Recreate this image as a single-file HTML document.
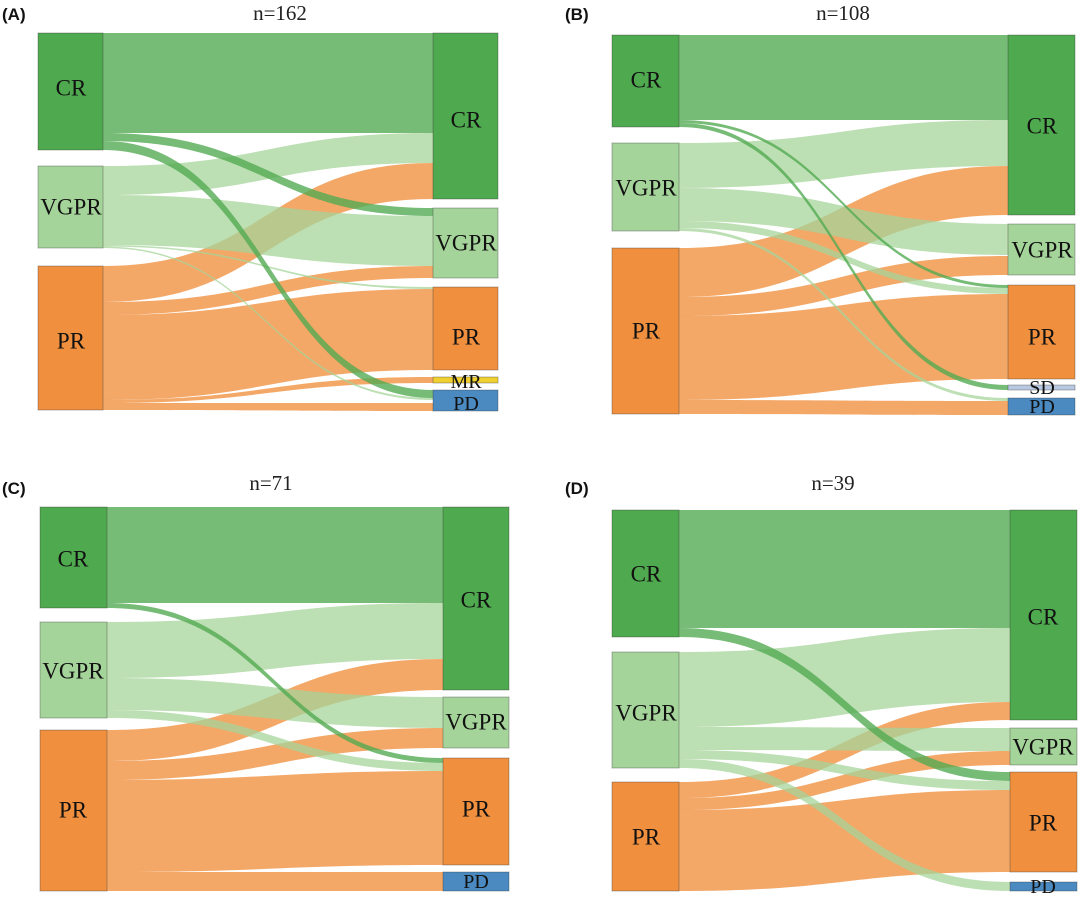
<!DOCTYPE html>
<html><head><meta charset="utf-8"><style>
body{margin:0;background:#fff}
svg{display:block}
.lab{font-family:"Liberation Serif",serif;font-size:23px;fill:#111;text-anchor:middle;dominant-baseline:central}
.sm{font-size:20px}
.ttl{font-family:"Liberation Serif",serif;font-size:21px;fill:#222;text-anchor:middle}
.pl{font-family:"Liberation Sans",sans-serif;font-size:17px;font-weight:bold;fill:#111}
</style></head><body>
<svg id="s" width="1080" height="898" viewBox="0 0 1080 898">
<g id="flows"></g>
<g id="nodes" stroke-opacity="0.35" stroke="#333" stroke-width="1">
<rect x="38" y="33" width="65" height="117" fill="#4fa94f"/>
<rect x="38" y="166" width="65" height="82" fill="#a5d49a"/>
<rect x="38" y="266" width="65" height="144" fill="#f08f3e"/>
<rect x="433" y="33" width="65" height="166" fill="#4fa94f"/>
<rect x="433" y="208" width="65" height="70" fill="#a5d49a"/>
<rect x="433" y="287" width="65" height="83" fill="#f08f3e"/>
<rect x="433" y="377" width="65" height="6" fill="#f0d030"/>
<rect x="433" y="390" width="65" height="21" fill="#4a8ac0"/>
<rect x="612" y="35" width="67" height="92" fill="#4fa94f"/>
<rect x="612" y="143" width="67" height="88" fill="#a5d49a"/>
<rect x="612" y="248" width="67" height="166" fill="#f08f3e"/>
<rect x="1008" y="35" width="67" height="180" fill="#4fa94f"/>
<rect x="1008" y="224" width="67" height="51" fill="#a5d49a"/>
<rect x="1008" y="285" width="67" height="94" fill="#f08f3e"/>
<rect x="1008" y="385" width="67" height="5" fill="#b8c8e0"/>
<rect x="1008" y="398" width="67" height="17" fill="#4a8ac0"/>
<rect x="40" y="507" width="67" height="101" fill="#4fa94f"/>
<rect x="40" y="622" width="67" height="96" fill="#a5d49a"/>
<rect x="40" y="730" width="67" height="161" fill="#f08f3e"/>
<rect x="443" y="507" width="66" height="183" fill="#4fa94f"/>
<rect x="443" y="697" width="66" height="51" fill="#a5d49a"/>
<rect x="443" y="758" width="66" height="107" fill="#f08f3e"/>
<rect x="443" y="872" width="66" height="19" fill="#4a8ac0"/>
<rect x="612" y="510" width="67" height="127" fill="#4fa94f"/>
<rect x="612" y="652" width="67" height="116" fill="#a5d49a"/>
<rect x="612" y="782" width="67" height="109" fill="#f08f3e"/>
<rect x="1010" y="510" width="67" height="210" fill="#4fa94f"/>
<rect x="1010" y="728" width="67" height="37" fill="#a5d49a"/>
<rect x="1010" y="772" width="67" height="100" fill="#f08f3e"/>
<rect x="1010" y="882" width="67" height="9" fill="#4a8ac0"/>
</g>
<g>
<text class="pl" x="2" y="20">(A)</text>
<text class="pl" x="565" y="20">(B)</text>
<text class="pl" x="2" y="494">(C)</text>
<text class="pl" x="565" y="494">(D)</text>
<text class="ttl" x="280" y="20">n=162</text>
<text class="ttl" x="843" y="20">n=108</text>
<text class="ttl" x="271" y="490">n=71</text>
<text class="ttl" x="833" y="490">n=39</text>

<text class="lab" x="71" y="88">CR</text>
<text class="lab" x="71" y="207">VGPR</text>
<text class="lab" x="71" y="341">PR</text>
<text class="lab" x="466" y="120">CR</text>
<text class="lab" x="466" y="243">VGPR</text>
<text class="lab" x="466" y="337">PR</text>
<text class="lab sm" x="466" y="382">MR</text>
<text class="lab sm" x="466" y="404">PD</text>

<text class="lab" x="646" y="80">CR</text>
<text class="lab" x="646" y="188">VGPR</text>
<text class="lab" x="646" y="331">PR</text>
<text class="lab" x="1042" y="126">CR</text>
<text class="lab" x="1042" y="250">VGPR</text>
<text class="lab" x="1042" y="337">PR</text>
<text class="lab sm" x="1042" y="388">SD</text>
<text class="lab sm" x="1042" y="407">PD</text>

<text class="lab" x="73" y="559">CR</text>
<text class="lab" x="73" y="671">VGPR</text>
<text class="lab" x="73" y="810">PR</text>
<text class="lab" x="476" y="600">CR</text>
<text class="lab" x="476" y="722">VGPR</text>
<text class="lab" x="476" y="809">PR</text>
<text class="lab sm" x="476" y="882">PD</text>

<text class="lab" x="646" y="574">CR</text>
<text class="lab" x="646" y="713">VGPR</text>
<text class="lab" x="646" y="837">PR</text>
<text class="lab" x="1043" y="617">CR</text>
<text class="lab" x="1043" y="747">VGPR</text>
<text class="lab" x="1043" y="823">PR</text>
<text class="lab sm" x="1043" y="887">PD</text>
</g>
</svg>
<script>
var C={c:"#4fa94f",v:"#a5d49a",p:"#f08f3e"};
var P=[
 [103,433,[["c",33,133,33,133],["v",166,195,133,163],["p",266,302,163,199],["v",195,245,216,266],["p",302,315,266,278],["p",315,400,289,370],["p",400,403,377,383],["p",403,410,403,411],["v",245,246.5,287,289],["v",246.5,248,398,400],["c",133,141,208,216],["c",141,150,390,398]]],
 [679,1008,[["c",35,120,35,120],["v",143,188,120,166],["p",248,297,166,215],["v",188,221,224,255],["p",297,316,256,275],["p",316,400,294,379],["p",400,414,401,415],["v",221,228,288,294],["v",228,231,398,401],["c",120,123,285,288],["c",123,127,385,390]]],
 [107,443,[["c",507,603,507,603],["v",622,678,603,659],["p",730,761,659,690],["v",678,710,697,728],["p",761,780,728,748],["p",780,872,771,865],["p",872,891,872,891],["v",710,718,763,771],["c",603,608,758,763]]],
 [679,1010,[["c",510,628,510,628],["v",652,727,628,702],["p",782,798,702,720],["v",727,750,728,751],["p",798,810,751,765],["p",810,891,790,872],["v",750,759,781,790],["v",759,768,882,891],["c",628,637,772,781]]]
];
var g=document.getElementById("flows"),ns="http://www.w3.org/2000/svg";
P.forEach(function(pn){var x1=pn[0],x2=pn[1],m=(x1+x2)/2;
pn[2].forEach(function(f){var p=document.createElementNS(ns,"path");
var d="M"+x1+","+f[1]+" C"+m+","+f[1]+" "+m+","+f[3]+" "+x2+","+f[3]+" L"+x2+","+f[4]+" C"+m+","+f[4]+" "+m+","+f[2]+" "+x1+","+f[2]+" Z";
p.setAttribute("d",d);p.setAttribute("fill",C[f[0]]);p.setAttribute("fill-opacity",f[0]=="v"?"0.75":"0.78");g.appendChild(p);});});
</script>
</body></html>
